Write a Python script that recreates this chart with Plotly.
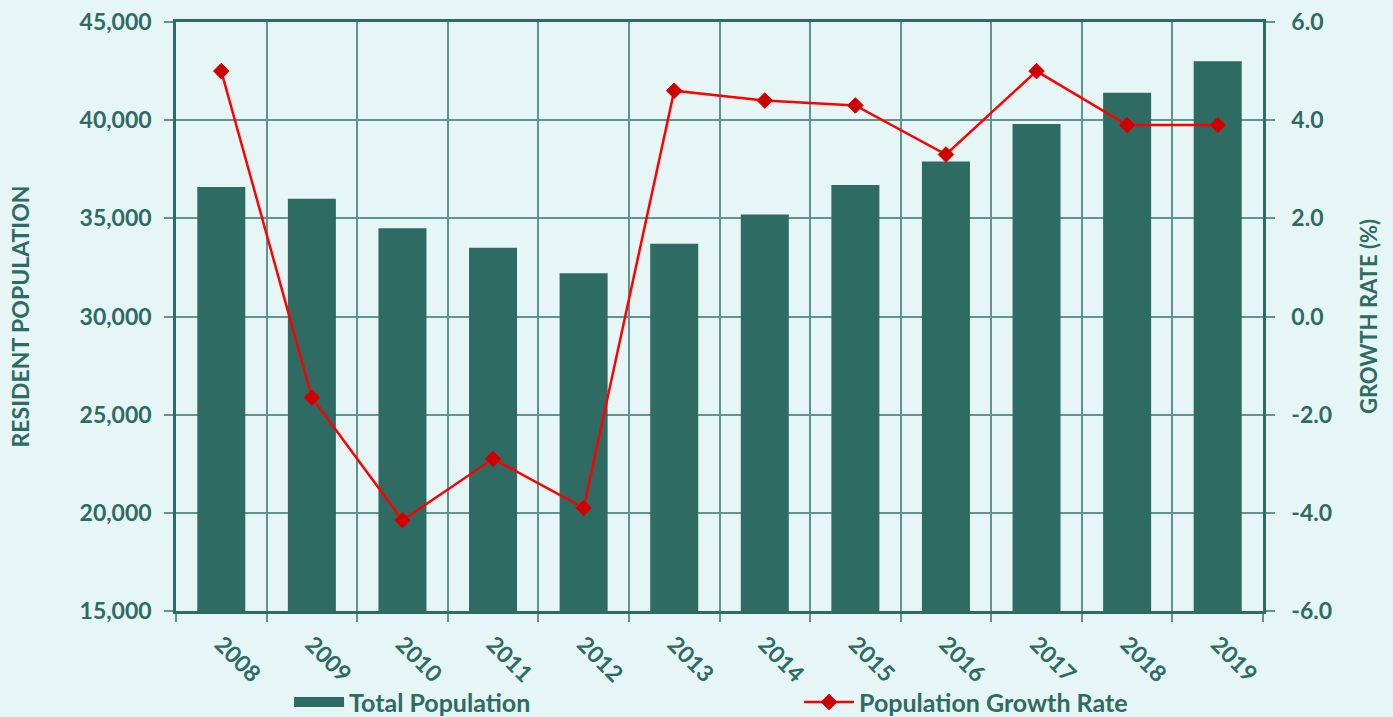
import plotly.graph_objects as go

years = ["2008", "2009", "2010", "2011", "2012", "2013", "2014", "2015", "2016", "2017", "2018", "2019"]
total_population = [36600, 36000, 34500, 33500, 32200, 33700, 35200, 36700, 37900, 39800, 41400, 43000]
growth_rate = [5.0, -1.65, -4.15, -2.9, -3.9, 4.6, 4.4, 4.3, 3.3, 5.0, 3.9, 3.9]
rate_tickvals = [-6, -4, -2, 0, 2, 4, 6]
rate_ticktext = ["-6.0", "-4.0", "-2.0", "0.0", "2.0", "4.0", "6.0"]

TEAL = "#2D6B63"
BG = "#E6F5F5"
GRID = "#5F958D"
FONT = "Lato"

fig = go.Figure()
fig.add_trace(go.Bar(
    x=years, y=total_population, name="<b>Total Population</b>",
    marker=dict(color=TEAL, line=dict(width=0)), width=0.53, yaxis="y",
    showlegend=False, legendgroup="pop",
))
# legend proxy giving the wide rectangular swatch of the bar series
fig.add_trace(go.Scatter(
    x=[None], y=[None], name="<b>Total Population</b>", mode="lines",
    line=dict(color=TEAL, width=20), legendgroup="pop", hoverinfo="skip",
))
fig.add_trace(go.Scatter(
    x=years, y=growth_rate, name="<b>Population Growth Rate</b>", yaxis="y2",
    mode="lines+markers",
    line=dict(color="#FF0000", width=2.5),
    marker=dict(symbol="diamond", size=12, color="#CC0000", line=dict(color="#E00000", width=1)),
))

fig.update_layout(
    width=1393, height=717,
    paper_bgcolor=BG, plot_bgcolor=BG,
    margin=dict(l=176, r=130, t=22, b=106, autoexpand=False),
    font=dict(family=FONT, color=TEAL),
    showlegend=True,
    legend=dict(
        orientation="h", x=0.104, xanchor="left", y=-0.155, yanchor="middle",
        font=dict(size=25, color=TEAL, family=FONT),
        entrywidth=445, entrywidthmode="pixels", bgcolor="rgba(0,0,0,0)",
        itemwidth=50, groupclick="togglegroup",
    ),
    xaxis=dict(
        type="category", tickson="boundaries", showgrid=True, gridcolor=GRID, gridwidth=1.5,
        ticks="outside", ticklen=8, tickcolor=GRID, tickwidth=1.5,
        showline=True, linecolor=TEAL, linewidth=2.5, mirror=True,
        tickangle=45, tickfont=dict(size=23, color=TEAL, family=FONT, weight="bold"),
        ticklabelstandoff=8,
        range=[-0.5, 11.5], automargin=False,
    ),
    yaxis=dict(
        range=[15000, 45000], dtick=5000, tickformat=",d",
        showgrid=True, gridcolor=GRID, gridwidth=1.5,
        ticks="outside", ticklen=9, tickcolor=GRID, tickwidth=1.5,
        showline=True, linecolor=TEAL, linewidth=2.5,
        tickfont=dict(size=23, color=TEAL, family=FONT, weight="bold"),
        ticklabelstandoff=8,
        title=dict(text="RESIDENT POPULATION", font=dict(size=23, color=TEAL, family=FONT, weight="bold"), standoff=44),
        zeroline=False, automargin=False,
    ),
    yaxis2=dict(
        overlaying="y", side="right", range=[-6, 6],
        tickvals=rate_tickvals, ticktext=rate_ticktext,
        showgrid=False, ticks="outside", ticklen=9, tickcolor=GRID, tickwidth=1.5,
        showline=True, linecolor=TEAL, linewidth=2.5,
        tickfont=dict(size=23, color=TEAL, family=FONT, weight="bold"),
        ticklabelstandoff=12,
        title=dict(text="GROWTH RATE (%)", font=dict(size=22, color=TEAL, family=FONT, weight="bold"), standoff=31),
        zeroline=False, automargin=False,
    ),
)

fig.write_html("out.html", post_script="document.body.style.margin='0';",
               config={"displayModeBar": False})
